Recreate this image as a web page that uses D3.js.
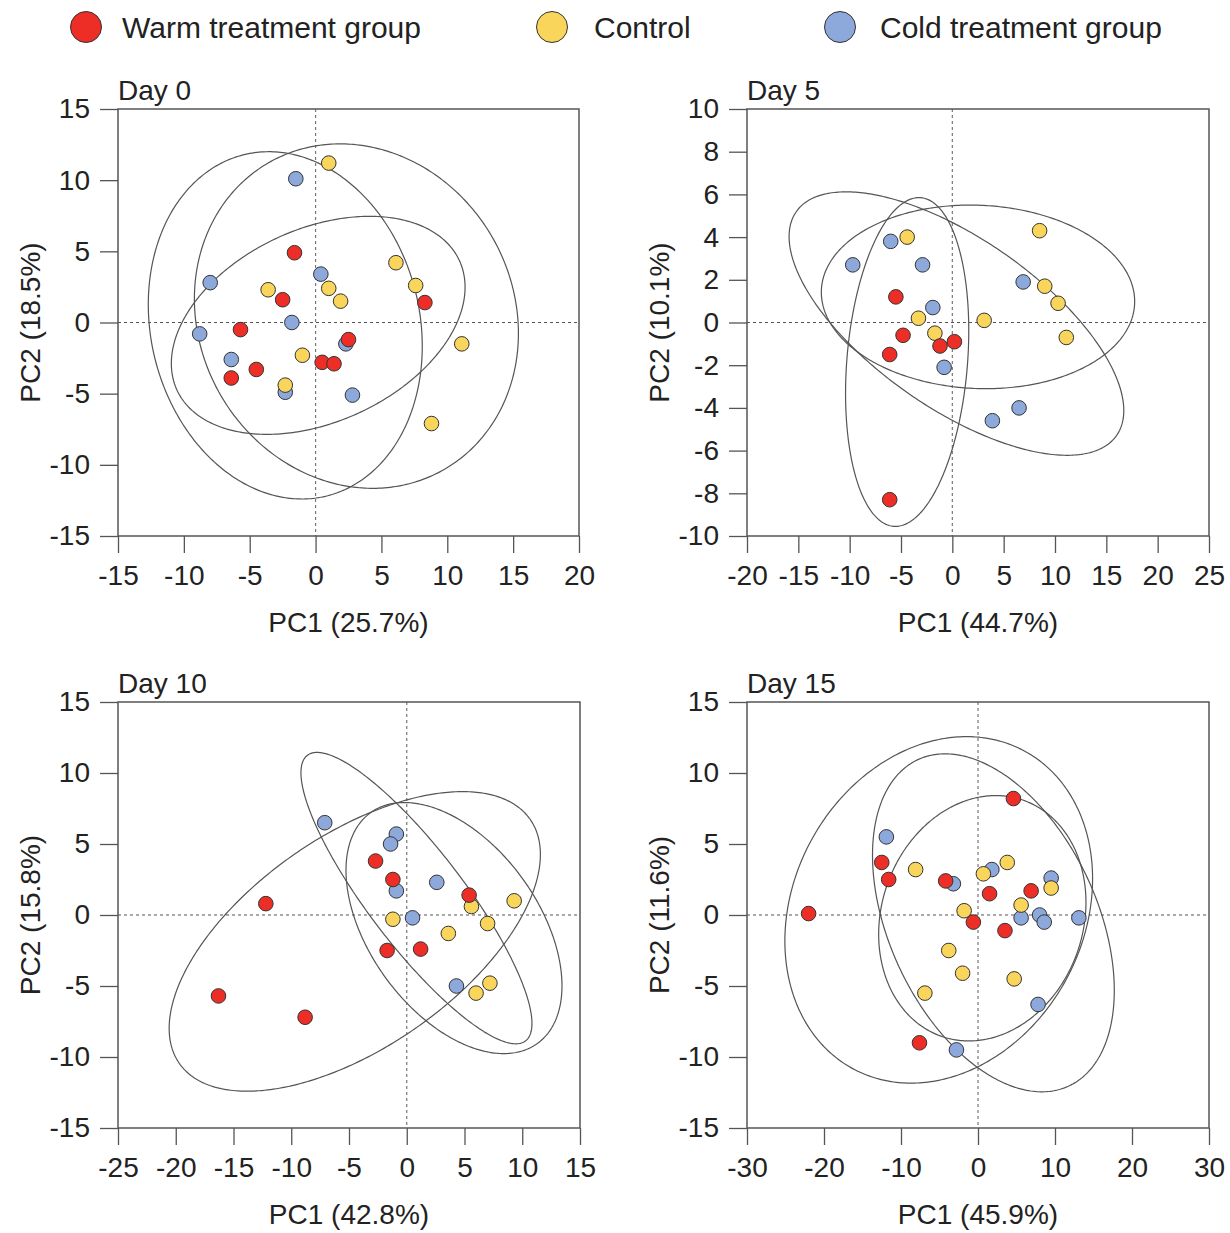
<!DOCTYPE html>
<html>
<head>
<meta charset="utf-8">
<script src="https://cdn.jsdelivr.net/npm/d3@7"></script>
<style>
  html, body { margin: 0; padding: 0; background: #fff; }
  svg text { font-family: "Liberation Sans", Arial, Helvetica, sans-serif; fill: #222; }
</style>
</head>
<body>
<svg id="chart" width="1230" height="1233"></svg>
<script>
// ---- Groups ----
const groupNames = ["Warm treatment group", "Control", "Cold treatment group"];
const groupKeys = ["warm", "control", "cold"];
const groupColors = ["#EC2E27", "#FAD55C", "#8DA9DB"];

// ---- PCA scores [PC1, PC2] per sampling day ----
const day0Warm = [[-1.6, 4.9], [-2.5, 1.6], [8.3, 1.4], [-5.7, -0.5], [2.5, -1.2], [0.5, -2.8], [1.4, -2.9], [-4.5, -3.3], [-6.4, -3.9]];
const day0Control = [[1.0, 11.2], [6.1, 4.2], [7.6, 2.6], [-3.6, 2.3], [1.0, 2.4], [1.9, 1.5], [11.1, -1.5], [-1.0, -2.3], [-2.3, -4.4], [8.8, -7.1]];
const day0Cold = [[-1.5, 10.1], [-8.0, 2.8], [0.4, 3.4], [-1.8, 0.0], [-8.8, -0.8], [-6.4, -2.6], [-2.3, -4.9], [2.8, -5.1], [2.3, -1.5]];

const day5Warm = [[-5.5, 1.2], [-4.8, -0.6], [-6.1, -1.5], [-1.2, -1.1], [0.2, -0.9], [-6.1, -8.3]];
const day5Control = [[8.5, 4.3], [-4.4, 4.0], [9.0, 1.7], [10.3, 0.9], [11.1, -0.7], [-3.3, 0.2], [3.1, 0.1], [-1.7, -0.5]];
const day5Cold = [[-6.0, 3.8], [-9.7, 2.7], [-2.9, 2.7], [6.9, 1.9], [-1.9, 0.7], [-0.8, -2.1], [6.5, -4.0], [3.9, -4.6]];

const day10Warm = [[-12.2, 0.8], [-16.3, -5.7], [-8.8, -7.2], [-2.7, 3.8], [-1.2, 2.5], [5.4, 1.4], [-1.7, -2.5], [1.2, -2.4]];
const day10Control = [[9.3, 1.0], [5.6, 0.6], [7.0, -0.6], [-1.2, -0.3], [3.6, -1.3], [7.2, -4.8], [6.0, -5.5]];
const day10Cold = [[-7.1, 6.5], [-0.9, 5.7], [-1.4, 5.0], [-0.9, 1.7], [2.6, 2.3], [0.5, -0.2], [4.3, -5.0]];

const day15Warm = [[4.6, 8.2], [-12.5, 3.7], [-11.6, 2.5], [-4.2, 2.4], [1.5, 1.5], [6.9, 1.7], [-22.0, 0.1], [-0.6, -0.5], [3.5, -1.1], [-7.6, -9.0]];
const day15Control = [[-8.1, 3.2], [0.7, 2.9], [3.8, 3.7], [9.5, 1.9], [5.6, 0.7], [-1.8, 0.3], [-3.8, -2.5], [-2.0, -4.1], [4.7, -4.5], [-6.9, -5.5]];
const day15Cold = [[-11.9, 5.5], [-3.2, 2.2], [1.8, 3.2], [9.5, 2.6], [5.6, -0.2], [8.0, 0.0], [8.6, -0.5], [13.1, -0.2], [7.8, -6.3], [-2.8, -9.5]];

// ---- Confidence ellipses: centre, half-extents along PC1 / PC2, skew (sine of phase) ----
const day0Ellipses = [
  { group: "cold", cx: -2.3, cy: -0.2, rx: 10.4, ry: 12.2, skew: -0.12 },
  { group: "control", cx: 3.1, cy: 0.45, rx: 12.3, ry: 12.1, skew: -0.10 },
  { group: "warm", cx: 0.2, cy: -0.2, rx: 11.15, ry: 7.66, skew: 0.35 }
];
const day5Ellipses = [
  { group: "cold", cx: 0.4, cy: -0.05, rx: 16.3, ry: 6.17, skew: -0.66 },
  { group: "control", cx: 2.5, cy: 1.2, rx: 15.26, ry: 4.3, skew: -0.05 },
  { group: "warm", cx: -4.4, cy: -1.85, rx: 6.0, ry: 7.7, skew: 0.19 }
];
const day10Ellipses = [
  { group: "warm", cx: -4.5, cy: -1.86, rx: 16.07, ry: 10.55, skew: 0.58 },
  { group: "cold", cx: 0.84, cy: 1.19, rx: 10.0, ry: 10.26, skew: -0.86 },
  { group: "control", cx: 4.09, cy: -0.92, rx: 9.35, ry: 8.84, skew: -0.46 }
];
const day15Ellipses = [
  { group: "warm", cx: -5.1, cy: 0.36, rx: 19.98, ry: 12.2, skew: 0.18 },
  { group: "cold", cx: 2.0, cy: -0.55, rx: 15.7, ry: 11.9, skew: -0.40 },
  { group: "control", cx: 0.56, cy: -0.23, rx: 13.46, ry: 8.64, skew: 0.13 }
];

// ---- Axis ticks and labels ----
const dayTitles = ["Day 0", "Day 5", "Day 10", "Day 15"];
const pc1Labels = ["PC1 (25.7%)", "PC1 (44.7%)", "PC1 (42.8%)", "PC1 (45.9%)"];
const pc2Labels = ["PC2 (18.5%)", "PC2 (10.1%)", "PC2 (15.8%)", "PC2 (11.6%)"];
const xTicks = [
  [-15, -10, -5, 0, 5, 10, 15, 20],
  [-20, -15, -10, -5, 0, 5, 10, 15, 20, 25],
  [-25, -20, -15, -10, -5, 0, 5, 10, 15],
  [-30, -20, -10, 0, 10, 20, 30]
];
const yTicks = [
  [-15, -10, -5, 0, 5, 10, 15],
  [-10, -8, -6, -4, -2, 0, 2, 4, 6, 8, 10],
  [-15, -10, -5, 0, 5, 10, 15],
  [-15, -10, -5, 0, 5, 10, 15]
];

const panelData = [
  { warm: day0Warm, control: day0Control, cold: day0Cold, ellipses: day0Ellipses },
  { warm: day5Warm, control: day5Control, cold: day5Cold, ellipses: day5Ellipses },
  { warm: day10Warm, control: day10Control, cold: day10Cold, ellipses: day10Ellipses },
  { warm: day15Warm, control: day15Control, cold: day15Cold, ellipses: day15Ellipses }
];

// ---- Layout ----
const panelBoxes = [
  { left: 118, top: 109, width: 461, height: 427 },
  { left: 747, top: 109, width: 462, height: 427 },
  { left: 118, top: 702, width: 462, height: 426 },
  { left: 747, top: 702, width: 462, height: 426 }
];
const FONT = 28;
const svg = d3.select("#chart");

// legend
const legendDotX = [86, 552, 840];
const legendTextX = [122, 594, 880];
const legend = svg.append("g").attr("class", "legend");
groupNames.forEach((name, i) => {
  legend.append("circle")
    .attr("cx", legendDotX[i]).attr("cy", 27).attr("r", 15.5)
    .attr("fill", groupColors[i]).attr("stroke", "#333").attr("stroke-width", 1);
  legend.append("text")
    .attr("x", legendTextX[i]).attr("y", 38)
    .attr("font-size", 30)
    .text(name);
});

const drawOrder = ["cold", "control", "warm"];

panelData.forEach((pd, i) => {
  const box = panelBoxes[i];
  const xDom = d3.extent(xTicks[i]);
  const yDom = d3.extent(yTicks[i]);
  const x = d3.scaleLinear().domain(xDom).range([0, box.width]);
  const y = d3.scaleLinear().domain(yDom).range([box.height, 0]);

  const g = svg.append("g").attr("transform", `translate(${box.left},${box.top})`);

  // zero reference lines
  g.append("line")
    .attr("x1", 0).attr("x2", box.width).attr("y1", y(0)).attr("y2", y(0))
    .attr("stroke", "#555").attr("stroke-width", 1.2).attr("stroke-dasharray", "3,3");
  g.append("line")
    .attr("x1", x(0)).attr("x2", x(0)).attr("y1", 0).attr("y2", box.height)
    .attr("stroke", "#777").attr("stroke-width", 1.2).attr("stroke-dasharray", "3,3");

  // ellipses
  const line = d3.line().curve(d3.curveLinearClosed);
  pd.ellipses.forEach(e => {
    const phase = Math.asin(e.skew);
    const pts = d3.range(0, 360, 1).map(deg => {
      const t = deg * Math.PI / 180;
      return [x(e.cx + e.rx * Math.cos(t)), y(e.cy + e.ry * Math.sin(t + phase))];
    });
    g.append("path").attr("d", line(pts))
      .attr("fill", "none").attr("stroke", "#555").attr("stroke-width", 1.2);
  });

  // points
  drawOrder.forEach(key => {
    const gi = groupKeys.indexOf(key);
    g.append("g").selectAll("circle").data(pd[key]).join("circle")
      .attr("cx", d => x(d[0])).attr("cy", d => y(d[1])).attr("r", 7.3)
      .attr("fill", groupColors[gi]).attr("stroke", "#333").attr("stroke-width", 1);
  });

  // axes
  const xAxis = d3.axisBottom(x).tickValues(xTicks[i]).tickFormat(d => String(d))
    .tickSize(17).tickSizeOuter(0).tickPadding(12);
  const yAxis = d3.axisLeft(y).tickValues(yTicks[i]).tickFormat(d => String(d))
    .tickSize(18).tickSizeOuter(0).tickPadding(10);
  const gx = g.append("g").attr("transform", `translate(0,${box.height})`).call(xAxis);
  const gy = g.append("g").call(yAxis);
  [gx, gy].forEach(ax => {
    ax.select(".domain").remove();
    ax.selectAll(".tick line").attr("stroke", "#555").attr("stroke-width", 1.3);
    ax.selectAll(".tick text").attr("font-size", FONT).attr("fill", "#222")
      .attr("font-family", "Liberation Sans, Arial, sans-serif");
  });

  // frame
  g.append("rect").attr("x", 0).attr("y", 0).attr("width", box.width).attr("height", box.height)
    .attr("fill", "none").attr("stroke", "#555").attr("stroke-width", 1.5);

  // titles
  g.append("text").attr("x", 0).attr("y", -9).attr("font-size", FONT).text(dayTitles[i]);
  g.append("text").attr("x", box.width / 2).attr("y", box.height + 96)
    .attr("text-anchor", "middle").attr("font-size", FONT).text(pc1Labels[i]);
  g.append("text").attr("transform", `translate(-78,${box.height / 2}) rotate(-90)`)
    .attr("text-anchor", "middle").attr("font-size", FONT).text(pc2Labels[i]);
});
</script>
</body>
</html>
